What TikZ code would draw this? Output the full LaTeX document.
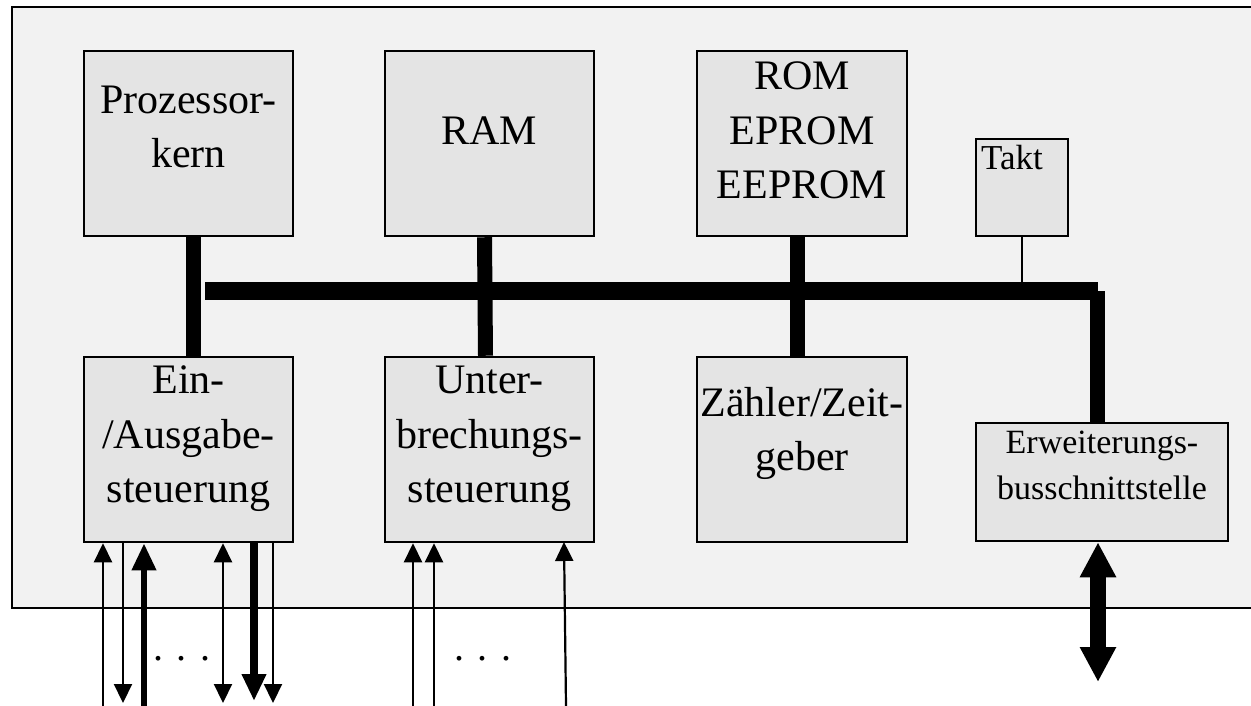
\documentclass[tikz,border=0pt]{standalone}
\usepackage{fontspec}
\setmainfont{Liberation Serif}
\usetikzlibrary{arrows.meta}
\definecolor{outerfill}{HTML}{F2F2F2}
\definecolor{boxfill}{HTML}{E4E4E4}
\tikzset{
  unitbox/.style={draw=black, line width=2.5pt, fill=boxfill, inner sep=0pt},
  bigtext/.style={font=\fontsize{42}{54.5}\selectfont, align=center, inner sep=0pt},
  bar/.style={line width=15pt, line cap=butt},
  thinarrow/.style={line width=2.2pt},
  thickarrow/.style={line width=6.5pt},
  tiphead/.tip={Triangle[width=18pt,length=19pt]},
  fathead/.tip={Triangle[width=23pt,length=27pt]},
  bighead/.tip={Triangle[width=34pt,length=35pt]},
  dotstext/.style={font=\fontsize{40}{48}\selectfont, anchor=base, inner sep=0pt}
}
\begin{document}
\begin{tikzpicture}[x=1pt,y=-1pt]
\useasboundingbox (0,0) rectangle (1251,706);
\fill[white] (0,0) rectangle (1251,706);
\draw[line width=2.5pt, fill=outerfill] (12,7) rectangle (1258,608);

% boxes
\node[unitbox, minimum width=209pt, minimum height=185pt] (pk) at (188.5,143.5) {};
\node[unitbox, minimum width=209pt, minimum height=185pt] (ram) at (489.5,143.5) {};
\node[unitbox, minimum width=210pt, minimum height=185pt] (rom) at (802,143.5) {};
\node[unitbox, minimum width=209pt, minimum height=185pt] (io) at (188.5,449.5) {};
\node[unitbox, minimum width=209pt, minimum height=185pt] (ub) at (489.5,449.5) {};
\node[unitbox, minimum width=210pt, minimum height=185pt] (zz) at (802,449.5) {};
\node[unitbox, minimum width=92pt, minimum height=97pt] (takt) at (1022,187.5) {};
\node[unitbox, minimum width=252pt, minimum height=118pt] (erw) at (1102,482) {};

% texts
\node[bigtext] (pkT) at (188.5,129.6) {\strut Prozessor-\\\strut kern};
\node[bigtext] (ramT) at (489.5,134.1) {\strut RAM};
\node[bigtext] (romT) at (802,133.6) {\strut ROM\\\strut EPROM\\\strut EEPROM};
\node[bigtext] (ioT) at (188.5,437.1) {\strut Ein-\\\strut /Ausgabe-\\\strut steuerung};
\node[bigtext] (ubT) at (489.5,437.1) {\strut Unter-\\\strut brechungs-\\\strut steuerung};
\node[bigtext] (zzT) at (802,432.6) {\strut Zähler/Zeit-\\\strut geber};
\node[font=\fontsize{34}{46}\selectfont, align=center, inner sep=0pt] (erwT) at (1102,466.8) {\strut Erweiterungs-\\\strut busschnittstelle};
\node[font=\fontsize{35}{42}\selectfont, anchor=base west, inner sep=0pt] (taktT) at (981,170) {Takt};

% vertical bars between boxes
\draw[bar] ([xshift=5pt]pk.south) -- ([xshift=5pt]io.north);
\draw[bar] ([xshift=-5pt]ram.south) -- ([xshift=-4pt]ub.north);
\draw[bar] ([xshift=-5pt]rom.south) -- ([xshift=-5pt]zz.north);

% bus
\coordinate (busL) at (205,291);
\coordinate (busR) at (1098,291);
\coordinate (busC) at (1097.5,291);
\draw[line width=2pt] (takt.south) -- (takt.south |- busR);
\draw[line width=18pt, line cap=butt] (busL) -- (busR);
\draw[line width=15pt, line cap=butt] (busC) -- (busC |- erw.north);

% extension bus arrow
\coordinate (extEnd) at (1098,682);
\draw[line width=16pt, {bighead}-{bighead}] (extEnd |- erw.south) -- (extEnd);

% I/O lines
\coordinate (p1) at (103,706);
\coordinate (p2) at (123,703);
\coordinate (p3) at (144,706);
\coordinate (p4) at (223,703);
\coordinate (p5) at (254,701);
\coordinate (p6) at (273,703);
\draw[thinarrow, -{tiphead}] (p1) -- (p1 |- io.south);
\draw[thinarrow, -{tiphead}] (p2 |- io.south) -- (p2);
\draw[thickarrow, -{fathead}] (p3) -- (p3 |- io.south);
\draw[thinarrow, {tiphead}-{tiphead}] (p4 |- io.south) -- (p4);
\draw[line width=7.5pt, -{fathead}] (p5 |- io.south) -- (p5);
\draw[thinarrow, -{tiphead}] (p6 |- io.south) -- (p6);
\node[dotstext] (dots1) at (182,660) {. . .};

% interrupt lines
\coordinate (q1) at (413,706);
\coordinate (q2) at (434,706);
\coordinate (q3) at (566,706);
\coordinate (q3t) at (564,542);
\draw[thinarrow, -{tiphead}] (q1) -- (q1 |- ub.south);
\draw[thinarrow, -{tiphead}] (q2) -- (q2 |- ub.south);
\draw[thinarrow, -{tiphead}] (q3) -- (q3t);
\node[dotstext] (dots2) at (483,660) {. . .};
\end{tikzpicture}
\end{document}
